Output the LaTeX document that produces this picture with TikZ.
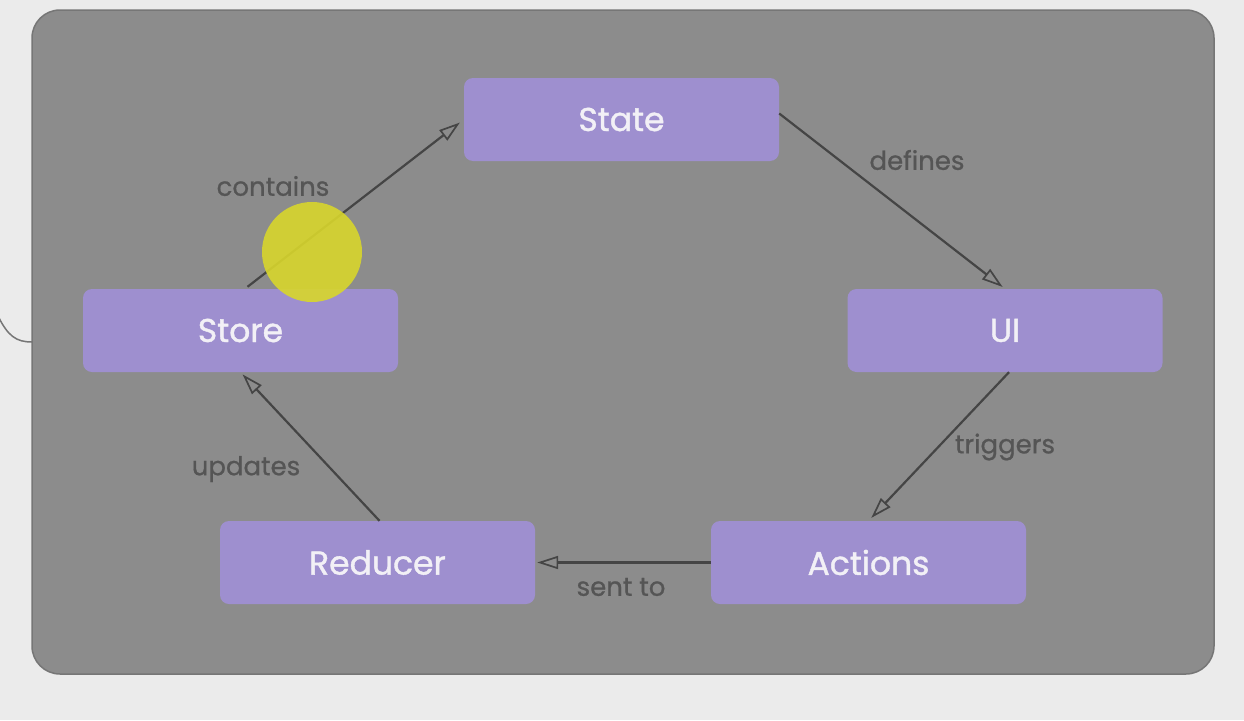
\documentclass[tikz,border=0pt]{standalone}
\usepackage{fontspec}
\setmainfont{Poppins}
\newfontfamily\boxfont[FakeBold=1.2]{Poppins}
\newfontfamily\lblfont[FakeBold=0.8]{Poppins}
\usetikzlibrary{arrows.meta}
\definecolor{bgc}{HTML}{EBEBEB}
\definecolor{panelc}{HTML}{8C8C8C}
\definecolor{panelb}{HTML}{767676}
\definecolor{boxc}{HTML}{9E8FCF}
\definecolor{boxt}{HTML}{F2F0F6}
\definecolor{lblc}{HTML}{555555}
\definecolor{arrc}{HTML}{454545}
\definecolor{yel}{HTML}{D8D62C}
\tikzset{
  stepbox/.style={fill=boxc, rounded corners=9pt, minimum width=315pt, minimum height=83pt, inner sep=0pt, text=boxt, font=\boxfont\fontsize{33}{36}\selectfont},
  lbl/.style={text=lblc, font=\lblfont\fontsize{26}{30}\selectfont, inner sep=0pt},
  conn/.style={draw=arrc, line width=2.2pt, -{Triangle[open, length=21pt, width=13pt, line width=1.7pt]}}
}
\begin{document}
\begin{tikzpicture}[x=1pt,y=-1pt]
\useasboundingbox (0,0) rectangle (1244,720);
\fill[bgc] (0,0) rectangle (1244,720);
\draw[panelb, line width=1.5pt] (-2,316) .. controls (8,336) and (16,342) .. (32,342);
\draw[fill=panelc, draw=panelb, line width=1.5pt, rounded corners=28pt] (32,10) rectangle (1214,674);

\node[stepbox] (state) at (621.5,119.5) {\raisebox{-2pt}{State}};
\node[stepbox] (store) at (240.5,330.5) {\raisebox{-2pt}{Store}};
\node[stepbox] (ui) at (1005,330.5) {\raisebox{-2pt}{UI}};
\node[stepbox] (reducer) at (377.5,562.5) {\raisebox{-2pt}{Reducer}};
\node[stepbox] (actions) at (868.5,562.5) {\raisebox{-2pt}{Actions}};

\node[lbl] (lcontains) at (273,186) {contains};
\node[lbl] (ldefines) at (917,160) {defines};
\node[lbl] (ltriggers) at (1005,447) {triggers};
\node[lbl] (lsent) at (621,587) {sent to};
\node[lbl] (lupdates) at (246,469) {updates};

\draw[conn, shorten >=5pt] ([xshift=7pt,yshift=2pt]store.north) -- (state.west);
\draw[conn, shorten >=3pt] ([yshift=6pt]state.east) -- (ui.north);
\draw[conn, shorten >=4pt] ([xshift=4pt]ui.south) -- (actions.north);
\draw[conn, shorten >=2pt] (actions.west) -- (reducer.east);
\draw[conn, shorten >=3pt] ([xshift=2pt]reducer.north) -- (store.south);

\node[circle, fill=yel, fill opacity=0.9, minimum size=100pt, inner sep=0pt] (dot) at (312,252) {};
\end{tikzpicture}
\end{document}
